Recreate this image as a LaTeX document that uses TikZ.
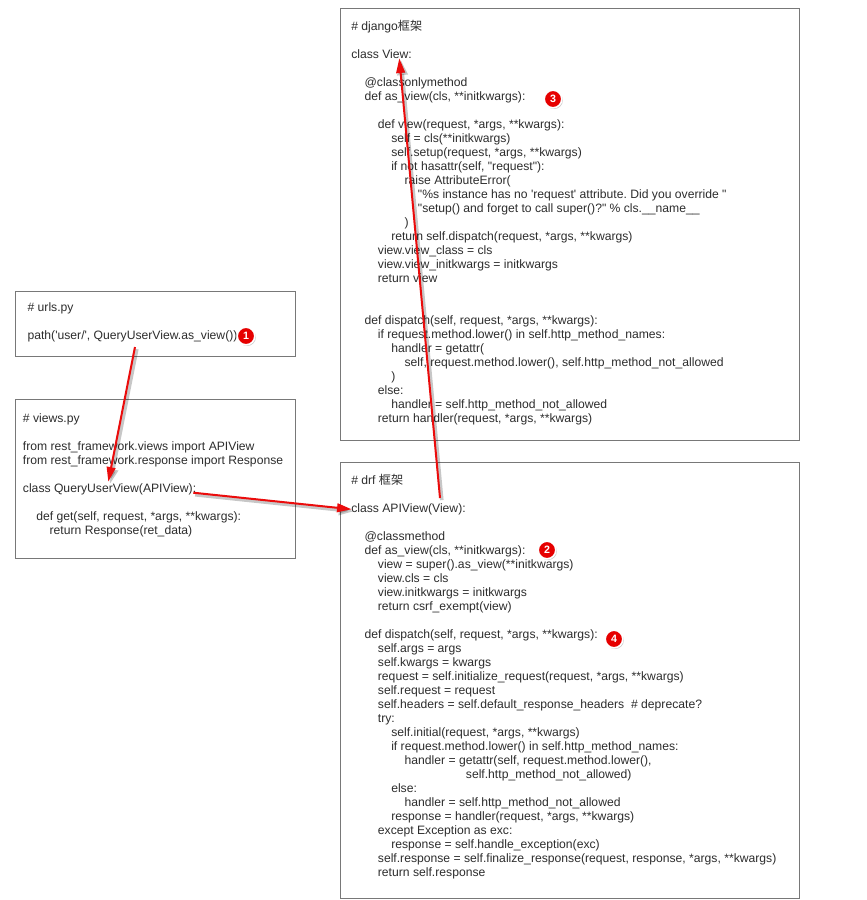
\documentclass[tikz,border=0pt]{standalone}
\usepackage{fontspec}
\setmainfont{Liberation Sans}[Ligatures=TeXOff]
\newfontfamily\cjk{Noto Sans CJK SC}
\usetikzlibrary{arrows.meta,fit,shadows}
\frenchspacing
\newlength\indunit
\setlength\indunit{10pt}
\newcommand\IN[1]{\hspace*{#1\indunit}}
\newcommand\EL{\mbox{}}
\definecolor{arrowred}{RGB}{235,12,12}
\definecolor{badgered}{RGB}{230,0,0}
\definecolor{boxgray}{RGB}{120,120,120}
\definecolor{codecol}{RGB}{45,45,45}
\tikzset{
  box/.style={draw=boxgray, line width=0.75pt, inner sep=0pt},
  codetext/.style={font=\fontsize{9.12}{10.5}\selectfont\frenchspacing, align=left, inner sep=0pt, text=codecol, anchor=base west},
  arr/.style={draw=arrowred, line width=1.5pt, -{Triangle[length=11pt,width=6.5pt]}},
  arrshadow/.style={draw=black, opacity=0.22, line width=2.6pt, -{Triangle[length=11pt,width=7.5pt]}, transform canvas={shift={(1.4pt,-1.6pt)}}},
  badge/.style={circle, fill=badgered, draw=white, line width=1.2pt, minimum size=13.2pt, inner sep=0pt, text=white, font=\bfseries\fontsize{8}{8}\selectfont, drop shadow={shadow xshift=0.8pt, shadow yshift=-0.9pt, opacity=0.4}}
}
\begin{document}
\begin{tikzpicture}[x=0.75pt,y=-0.75pt]
\fill[white] (0,0) rectangle (867,900);
\useasboundingbox (0,0) rectangle (867,900);

% boxes
\node[box, fit={(340,8) (799,440)}] (django) {};
\node[box, fit={(340,462) (799,898)}] (drf) {};
\node[box, fit={(15,291) (295,356)}] (urls) {};
\node[box, fit={(15,399) (295,558)}] (views) {};

% django text (node base = baseline of its last line)
\node[codetext] (djtext) at (351,422.7) {%
\# django{\cjk 框架}\\
\EL\\
class View:\\
\EL\\
\IN{1}@classonlymethod\\
\IN{1}def as\_view(cls, **initkwargs):\\
\EL\\
\IN{2}def view(request, *args, **kwargs):\\
\IN{3}self = cls(**initkwargs)\\
\IN{3}self.setup(request, *args, **kwargs)\\
\IN{3}if not hasattr(self, "request"):\\
\IN{4}raise AttributeError(\\
\IN{5}"\%s instance has no 'request' attribute. Did you override "\\
\IN{5}"setup() and forget to call super()?" \% cls.\_\_name\_\_\\
\IN{4})\\
\IN{3}return self.dispatch(request, *args, **kwargs)\\
\IN{2}view.view\_class = cls\\
\IN{2}view.view\_initkwargs = initkwargs\\
\IN{2}return view\\
\EL\\
\EL\\
\IN{1}def dispatch(self, request, *args, **kwargs):\\
\IN{2}if request.method.lower() in self.http\_method\_names:\\
\IN{3}handler = getattr(\\
\IN{4}self, request.method.lower(), self.http\_method\_not\_allowed\\
\IN{3})\\
\IN{2}else:\\
\IN{3}handler = self.http\_method\_not\_allowed\\
\IN{2}return handler(request, *args, **kwargs)};

% drf text
\node[codetext] (drftext) at (351,876.7) {%
\# drf {\cjk 框架}\\
\EL\\
class APIView(View):\\
\EL\\
\IN{1}@classmethod\\
\IN{1}def as\_view(cls, **initkwargs):\\
\IN{2}view = super().as\_view(**initkwargs)\\
\IN{2}view.cls = cls\\
\IN{2}view.initkwargs = initkwargs\\
\IN{2}return csrf\_exempt(view)\\
\EL\\
\IN{1}def dispatch(self, request, *args, **kwargs):\\
\IN{2}self.args = args\\
\IN{2}self.kwargs = kwargs\\
\IN{2}request = self.initialize\_request(request, *args, **kwargs)\\
\IN{2}self.request = request\\
\IN{2}self.headers = self.default\_response\_headers\ \ \# deprecate?\\
\IN{2}try:\\
\IN{3}self.initial(request, *args, **kwargs)\\
\IN{3}if request.method.lower() in self.http\_method\_names:\\
\IN{4}handler = getattr(self, request.method.lower(),\\
\hspace*{86pt}self.http\_method\_not\_allowed)\\
\IN{3}else:\\
\IN{4}handler = self.http\_method\_not\_allowed\\
\IN{3}response = handler(request, *args, **kwargs)\\
\IN{2}except Exception as exc:\\
\IN{3}response = self.handle\_exception(exc)\\
\IN{2}self.response = self.finalize\_response(request, response, *args, **kwargs)\\
\IN{2}return self.response};

% urls text
\node[codetext] (urlstext) at (27.3,339.7) {%
\# urls.py\\
\EL\\
path('user/', QueryUserView.as\_view()),};

% views text
\node[codetext] (viewstext) at (22.7,534.3) {%
\# views.py\\
\EL\\
from rest\_framework.views import APIView\\
from rest\_framework.response import Response\\
\EL\\
class QueryUserView(APIView):\\
\EL\\
\IN{1}def get(self, request, *args, **kwargs):\\
\IN{2}return Response(ret\_data)};

% connector end points
\coordinate (p1s) at (135,347);
\coordinate (p1e) at (108.3,481.7);
\coordinate (p2s) at (193.3,492.7);
\coordinate (p2e) at (351.7,509.3);
\coordinate (p3s) at (440,498);
\coordinate (p3e) at (399.3,58.3);

% shadows of arrows
\draw[arrshadow] (p1s) -- (p1e);
\draw[arrshadow] (p2s) -- (p2e);
\draw[arrshadow] (p3s) -- (p3e);
% arrows
\draw[arr] (p1s) -- (p1e);
\draw[arr] (p2s) -- (p2e);
\draw[arr] (p3s) -- (p3e);

% badges
\node[badge] (b1) at (246,336) {1};
\node[badge] (b2) at (547,550) {2};
\node[badge] (b3) at (553,99) {3};
\node[badge] (b4) at (614,639) {4};
\end{tikzpicture}
\end{document}
